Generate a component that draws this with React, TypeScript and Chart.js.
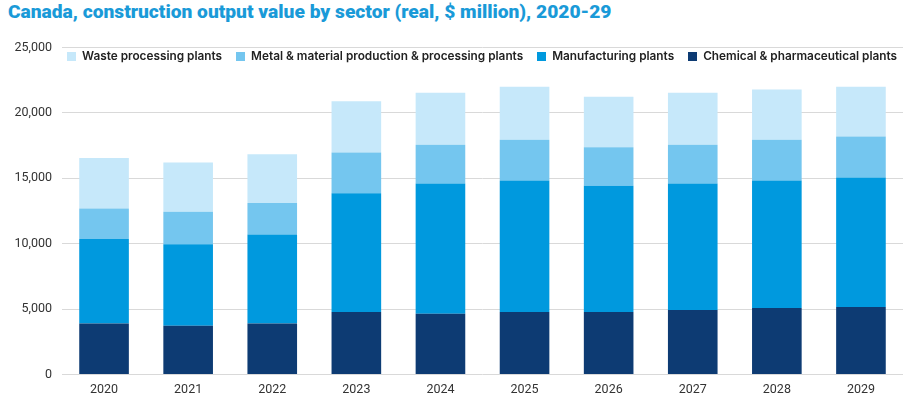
import React, { useEffect, useRef } from "react";
import { Chart, registerables } from "chart.js";

Chart.register(...registerables);

const years = ["2020", "2021", "2022", "2023", "2024", "2025", "2026", "2027", "2028", "2029"];
const chemical = [3900, 3720, 3900, 4770, 4640, 4770, 4770, 4940, 5090, 5170];
const manufacturing = [6450, 6240, 6810, 9090, 9970, 10060, 9660, 9670, 9740, 9890];
const metal = [2350, 2480, 2410, 3110, 2960, 3110, 2940, 2960, 3110, 3130];
const waste = [3850, 3760, 3710, 3930, 3970, 4050, 3860, 3970, 3840, 3800];

const seriesNames = [
  "Waste processing plants",
  "Metal & material production & processing plants",
  "Manufacturing plants",
  "Chemical & pharmaceutical plants",
];
const colors = ["#C6E8FA", "#74C6EF", "#0099DE", "#0D3B73"];
const yTicks = [0, 5000, 10000, 15000, 20000, 25000];

export default function App() {
  const ref = useRef<HTMLCanvasElement | null>(null);

  useEffect(() => {
    document.body.style.margin = "0";
    if (!ref.current) return;
    const chart = new Chart(ref.current, {
      type: "bar",
      data: {
        labels: years,
        datasets: [
          { label: seriesNames[3], data: chemical, backgroundColor: colors[3] },
          { label: seriesNames[2], data: manufacturing, backgroundColor: colors[2] },
          { label: seriesNames[1], data: metal, backgroundColor: colors[1] },
          { label: seriesNames[0], data: waste, backgroundColor: colors[0] },
        ],
      },
      options: {
        animation: false,
        responsive: false,
        maintainAspectRatio: false,
        layout: { padding: { top: 13, left: 0, right: 0, bottom: 0 } },
        datasets: { bar: { barPercentage: 0.59, categoryPercentage: 1 } },
        plugins: { legend: { display: false }, tooltip: { enabled: false }, title: { display: false } },
        scales: {
          x: {
            stacked: true,
            grid: { display: false },
            border: { display: false },
            ticks: { color: "#333", font: { family: "Roboto", size: 12.5 }, padding: 0 },
            afterFit: (s: any) => { s.height = 27.5; },
          },
          y: {
            stacked: true,
            min: 0,
            max: 25000,
            afterBuildTicks: (s: any) => { s.ticks = yTicks.map((v) => ({ value: v })); },
            grid: { color: "#d9d9d9", lineWidth: 1, drawTicks: false },
            border: { display: false },
            ticks: {
              color: "#333",
              font: { family: "Roboto", size: 12.5 },
              padding: 10,
              callback: (v: any) => Number(v).toLocaleString("en-US"),
            },
            afterFit: (s: any) => { s.width = 62; },
          },
        },
      },
    });
    return () => chart.destroy();
  }, []);

  const legendItems = [0, 1, 2, 3];
  return (
    <div style={{ position: "relative", width: 903, height: 402, overflow: "hidden", background: "#fff" }}>
      <div
        style={{
          position: "absolute",
          left: 8,
          top: 0,
          fontFamily: "Roboto",
          fontWeight: 900,
          fontSize: 19.2,
          letterSpacing: 0,
          color: "#1A9AD8",
          whiteSpace: "nowrap",
        }}
      >
        Canada, construction output value by sector (real, $ million), 2020-29
      </div>
      <canvas ref={ref} width={903} height={372} style={{ position: "absolute", left: 0, top: 30 }} />
      <div
        style={{
          position: "absolute",
          left: 67,
          top: 49,
          display: "flex",
          alignItems: "center",
          fontFamily: "Inter",
          fontWeight: 600,
          fontSize: 11.8,
          color: "#222",
          whiteSpace: "nowrap",
        }}
      >
        {legendItems.map((i) => (
          <div key={i} style={{ display: "flex", alignItems: "center", marginRight: 14 }}>
            <span style={{ display: "inline-block", width: 9, height: 9, background: colors[i], marginRight: 6 }} />
            <span>{seriesNames[i]}</span>
          </div>
        ))}
      </div>
    </div>
  );
}
